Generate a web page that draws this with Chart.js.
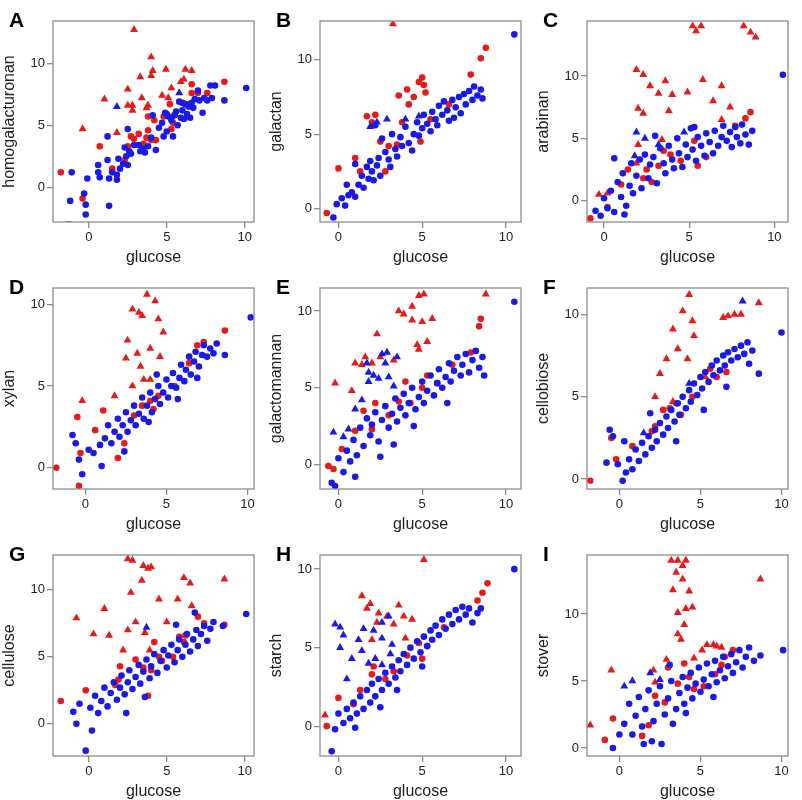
<!DOCTYPE html>
<html><head><meta charset="utf-8">
<script src="https://cdn.jsdelivr.net/npm/chart.js@4"></script>
<style>
body{margin:0;background:#fff;width:802px;height:800px;overflow:hidden}
#g{display:grid;grid-template-columns:267px 267px 268px;grid-template-rows:267px 267px 266px}
.c{position:relative;width:267px;height:267px}
canvas{display:block}
</style></head><body><div id="g"></div>
<script>
const panelLetters=["A","B","C","D","E","F","G","H","I"];
const yTitles=["homogalacturonan","galactan","arabinan","xylan","galactomannan","cellobiose","cellulose","starch","stover"];
const xTitle="glucose";
const tickValues=[0,5,10];
const xRanges=[[-2.3,10.6],[-1.1,10.9],[-1.0,10.8],[-2.0,10.4],[-1.1,10.9],[-2.0,10.4],[-2.3,10.6],[-1.1,10.9],[-2.0,10.4]];
const yRanges=[[-2.8,13.4],[-0.9,12.6],[-1.7,14.4],[-1.3,11.0],[-1.6,11.5],[-0.6,11.6],[-2.4,12.6],[-1.9,10.9],[-0.6,14.4]];

const A_blue=[[-1.2,-1.1],[-1.1,1.2],[-0.3,-0.5],[-0.2,-1.4],[-0.2,-2.2],[-0.1,0.7],[0.6,1.2],[0.6,1.8],[0.7,0.8],[1.2,4.1],[1.3,-1.5],[1.3,0.7],[1.2,2.2],[1.5,1.2],[1.8,0.6],[1.8,1.0],[1.9,2.3],[2.0,1.5],[2.2,1.9],[2.3,3.2],[2.4,2.5],[2.5,1.8],[2.5,4.7],[2.6,2.9],[2.7,2.7],[2.9,3.4],[3.2,3.4],[3.3,2.9],[3.5,3.1],[3.6,2.8],[3.8,3.3],[4.0,4.0],[4.1,5.8],[4.3,3.0],[4.5,4.8],[4.7,5.2],[4.8,4.1],[4.9,6.0],[5.0,4.5],[5.1,5.7],[5.3,5.4],[5.4,4.1],[5.5,5.8],[5.6,6.1],[5.7,5.0],[5.8,6.9],[5.9,5.6],[6.0,6.2],[6.1,5.5],[6.2,6.7],[6.3,5.9],[6.4,6.5],[6.5,5.6],[6.6,6.8],[6.7,6.4],[6.8,7.1],[7.0,7.8],[7.1,7.0],[7.3,6.0],[7.4,7.2],[7.6,7.0],[7.8,8.2],[7.9,7.2],[8.1,8.2],[8.7,7.0],[10.1,8.0],[-1.4,-3],[-1.2,-3],[5.0,5.9],[6.0,6.8]];
const A_blueTri=[[1.8,6.5],[5.8,7.6]];
const A_red=[[-1.8,1.2],[0.7,3.3],[-0.4,-0.9],[1.5,1.5],[2.3,2.2],[2.5,3.3],[2.7,4.1],[2.9,3.9],[3.2,4.3],[3.5,3.5],[3.7,4.0],[3.8,4.6],[3.8,5.7],[4.2,5.4],[4.3,3.8],[4.8,5.7],[5.2,6.7],[5.3,4.7],[5.5,5.8],[6.5,6.7],[6.6,8.3],[6.6,7.6],[7.0,7.6],[7.6,7.6],[8.7,8.5],[5.4,5.2],[4.0,3.8]];
const A_redTri=[[2.9,12.7],[4.0,10.5],[4.1,9.4],[4.0,9.0],[3.3,8.9],[4.95,9.5],[6.2,9.5],[6.6,9.4],[5.9,8.5],[6.1,8.7],[2.5,7.9],[1.0,7.1],[3.4,7.2],[5.3,8.0],[4.7,7.4],[5.1,7.2],[2.5,6.6],[2.8,6.6],[2.8,6.2],[3.8,6.6],[3.7,6.4],[-0.4,4.7],[1.8,4.4]];

const B_blue=[[-0.3,-0.6],[-0.1,0.3],[0.2,0.7],[0.4,0.2],[0.6,0.9],[0.8,1.1],[1.0,0.8],[1.2,1.6],[1.4,2.2],[1.5,1.4],[1.7,2.8],[1.8,2.0],[1.9,3.2],[2.0,2.5],[2.1,1.9],[2.3,2.9],[2.4,3.4],[2.5,2.2],[2.6,4.7],[2.8,3.8],[3.0,3.3],[3.2,5.0],[3.4,4.0],[3.5,3.5],[3.7,4.8],[3.8,4.2],[4.0,5.5],[4.2,4.4],[4.4,3.9],[4.5,5.0],[4.7,5.8],[4.8,4.9],[5.0,5.4],[5.1,6.3],[5.3,5.7],[5.5,5.2],[5.6,6.5],[5.8,6.0],[5.9,5.6],[6.0,6.9],[6.2,6.3],[6.3,7.2],[6.5,6.6],[6.6,5.9],[6.8,7.3],[7.0,6.8],[7.2,7.5],[7.3,6.4],[7.5,7.7],[7.6,7.0],[7.8,7.9],[8.0,7.3],[8.1,8.2],[8.3,7.6],[8.5,8.0],[8.6,7.4],[10.5,11.7],[1.0,3.0],[2.2,5.6],[0.5,1.6],[3.1,2.8],[6.9,6.1]];
const B_blueTri=[[1.9,5.5],[2.3,5.8],[2.9,6.0],[4.0,6.0],[4.8,6.2]];
const B_red=[[-0.7,-0.3],[0.0,2.7],[1.7,6.2],[2.0,5.8],[2.2,6.3],[2.5,4.5],[3.0,4.2],[3.5,4.3],[4.5,7.5],[4.8,8.5],[5.0,8.8],[5.1,8.3],[5.2,7.8],[4.1,8.0],[3.6,7.6],[4.2,7.0],[1.3,2.5],[1.0,3.4],[2.8,2.5],[4.9,4.5],[3.8,5.8],[8.5,10.1],[8.8,10.8],[7.9,9.0],[6.6,7.0],[5.5,6.0]];
const B_redTri=[[3.25,12.4]];

const C_blue=[[-0.5,-0.8],[-0.2,-1.2],[0.0,0.2],[0.2,-0.6],[0.4,0.8],[0.6,-0.9],[0.8,1.5],[1.0,0.3],[1.1,2.2],[1.3,-0.4],[1.5,1.2],[1.6,3.0],[1.7,0.6],[1.9,2.0],[2.1,3.3],[2.2,1.0],[2.4,3.7],[2.6,1.8],[2.7,2.9],[2.9,3.5],[3.1,1.4],[3.3,4.2],[3.5,3.0],[3.6,2.2],[3.8,4.4],[4.0,3.3],[4.1,2.6],[4.3,5.0],[4.4,3.8],[4.6,2.7],[4.8,4.5],[4.9,3.5],[5.1,5.8],[5.2,4.1],[5.4,3.2],[5.5,5.1],[5.7,4.4],[5.9,3.6],[6.0,5.4],[6.2,4.7],[6.4,3.8],[6.5,5.6],[6.7,4.4],[6.9,5.1],[7.0,6.0],[7.2,4.8],[7.4,5.5],[7.5,4.3],[7.7,5.9],[7.8,5.1],[8.0,4.6],[8.1,6.1],[8.3,5.3],[8.5,4.5],[8.7,5.6],[10.5,10.1],[0.6,3.4],[1.2,-1.1],[3.0,5.2],[5.3,5.9]];
const C_blueTri=[[1.9,5.5],[2.4,5.0],[4.7,5.5],[3.2,4.5],[1.8,3.6]];
const C_red=[[-0.8,-1.4],[0.2,-0.5],[1.0,1.3],[1.4,2.5],[2.3,1.8],[2.8,1.5],[3.2,2.8],[3.9,3.7],[4.5,3.2],[5.3,4.8],[5.5,2.8],[7.7,6.0],[8.3,6.6],[8.6,7.1],[6.0,3.5],[2.5,2.5],[3.5,4.0]];
const C_redTri=[[5.2,14],[5.7,14],[5.4,13.6],[8.2,14],[8.6,13.5],[8.9,13.1],[1.9,10.5],[2.3,10.1],[3.6,9.6],[5.8,9.7],[2.7,9.2],[3.2,8.6],[4.0,8.5],[4.9,8.7],[6.9,9.2],[6.4,8.0],[2.0,7.4],[2.3,7.0],[3.8,7.2],[7.4,7.5],[6.9,6.5],[2.0,4.5],[3.4,4.9],[-0.3,0.5],[0.2,0.6],[1.9,3.0]];

const D_blue=[[-0.8,2.0],[-0.6,1.5],[-0.4,0.5],[-0.2,-0.4],[0.5,0.9],[0.9,1.4],[1.2,1.8],[1.4,2.6],[1.6,1.5],[1.8,2.2],[2.0,3.0],[2.1,1.9],[2.3,2.6],[2.5,3.4],[2.6,2.2],[2.8,2.9],[3.0,3.8],[3.1,2.6],[3.3,3.3],[3.5,4.3],[3.6,3.0],[3.8,3.8],[4.0,4.6],[4.1,3.4],[4.3,4.2],[4.5,5.0],[4.6,3.9],[4.8,4.6],[5.0,5.4],[5.1,4.3],[5.3,5.0],[5.4,5.8],[5.6,4.9],[5.8,5.5],[5.9,6.3],[6.1,5.3],[6.2,6.0],[6.4,6.8],[6.5,5.7],[6.7,6.5],[6.8,7.1],[7.0,6.2],[7.2,6.9],[7.3,7.5],[7.5,6.8],[7.7,7.3],[7.9,7.0],[8.1,7.6],[8.6,6.9],[10.2,9.2],[1.0,0.1],[2.4,1.0],[3.9,2.8],[5.7,4.2],[6.9,5.5],[4.4,5.7],[0.2,1.1]];
const D_blueTri=[];
const D_red=[[-1.8,0],[-0.4,-1.1],[-0.3,0.9],[-0.5,3.1],[1.1,3.5],[0.6,2.3],[2.4,1.5],[3.0,3.2],[3.5,3.8],[4.0,4.1],[4.5,4.4],[5.5,5.0],[6.4,6.4],[7.3,7.7],[8.6,8.4],[6.9,7.5],[4.2,3.6],[2.0,0.6]];
const D_redTri=[[3.8,10.6],[4.3,10.2],[3.3,9.5],[2.9,9.7],[3.5,9.3],[4.5,9.1],[4.8,8.3],[2.6,7.8],[4.0,7.3],[3.2,7.0],[4.6,6.8],[2.5,6.7],[3.4,6.2],[4.0,5.4],[3.6,5.4],[-0.2,4.1],[2.9,5.0],[1.8,4.4]];

const E_blue=[[-0.4,-1.2],[-0.2,-1.4],[0.0,0.4],[0.3,-0.5],[0.5,0.9],[0.7,0.2],[0.9,1.6],[1.1,0.6],[1.3,2.4],[1.5,1.2],[1.7,3.0],[1.9,1.9],[2.0,2.6],[2.2,3.4],[2.4,1.5],[2.6,2.9],[2.8,3.8],[3.0,2.4],[3.2,3.3],[3.4,4.3],[3.5,2.8],[3.7,3.7],[3.9,4.6],[4.0,3.2],[4.2,4.0],[4.4,5.0],[4.6,3.6],[4.8,4.4],[5.0,5.4],[5.1,4.0],[5.3,4.8],[5.5,5.8],[5.7,4.5],[5.9,5.3],[6.0,6.2],[6.2,5.0],[6.4,5.7],[6.6,6.6],[6.7,5.4],[6.9,6.1],[7.1,7.0],[7.3,5.8],[7.4,6.5],[7.6,7.2],[7.8,6.0],[8.0,6.8],[8.2,7.4],[8.4,6.3],[8.6,7.0],[8.7,5.8],[10.5,10.6],[1.0,-0.8],[2.5,0.5],[4.5,2.5],[6.5,4.0],[3.3,1.3]];
const E_blueTri=[[2.6,7.2],[2.9,7.3],[3.5,7.0],[2.8,6.6],[1.8,6.0],[2.1,5.8],[2.4,5.6],[3.0,5.7],[1.8,5.4],[3.3,5.1],[1.4,4.2],[1.0,3.6],[0.3,1.8],[0.6,2.3],[1.7,6.6],[-0.3,2.1]];
const E_red=[[-0.6,-0.1],[-0.3,-0.3],[0.2,1.0],[1.0,2.2],[1.5,3.5],[2.0,2.3],[2.2,4.0],[3.0,3.2],[3.6,4.1],[4.3,4.0],[5.0,5.0],[5.3,5.8],[5.9,5.3],[6.8,6.5],[8.4,9.0],[8.5,9.5],[7.9,7.3],[4.0,5.4]];
const E_redTri=[[4.8,11],[5.1,11.1],[4.4,10.3],[3.6,10],[3.9,9.8],[4.4,9.4],[5.0,9.3],[5.6,9.5],[8.8,11.1],[2.3,8.5],[1.6,7.0],[2.5,7.0],[2.0,6.6],[3.3,6.8],[1.4,6.5],[1.0,6.6],[4.8,7.5],[5.3,8.0],[-0.2,5.3],[0.8,4.8],[4.7,7.8]];

const F_blue=[[-0.8,1.0],[-0.6,3.0],[-0.4,2.6],[-0.1,0.9],[0.2,-0.1],[0.4,0.4],[0.6,1.2],[0.8,0.6],[1.0,1.8],[1.2,1.1],[1.4,2.2],[1.6,1.5],[1.8,2.6],[2.0,1.9],[2.2,3.0],[2.3,2.3],[2.5,3.4],[2.7,2.7],[2.9,3.8],[3.0,3.1],[3.2,4.2],[3.4,3.5],[3.6,4.6],[3.7,3.9],[3.9,5.0],[4.1,4.3],[4.3,5.4],[4.4,4.7],[4.6,5.8],[4.8,5.1],[5.0,6.2],[5.1,5.5],[5.3,6.5],[5.5,5.9],[5.7,6.9],[5.8,6.3],[6.0,7.2],[6.2,6.6],[6.4,7.5],[6.5,6.9],[6.7,7.7],[6.9,7.2],[7.1,7.9],[7.3,7.4],[7.5,8.1],[7.7,7.6],[7.9,8.3],[8.2,7.8],[8.6,6.4],[10.0,8.9],[0.3,2.3],[1.9,4.0],[3.5,2.3],[5.2,4.2],[6.6,5.6],[8.0,7.0]];
const F_blueTri=[[7.6,10.8],[1.5,2.8],[4.3,5.8]];
const F_red=[[-1.8,-0.1],[-0.5,2.5],[-0.2,1.2],[0.8,2.0],[2.0,2.9],[2.7,4.2],[3.1,4.3],[3.5,4.6],[4.5,5.0],[5.6,6.7],[6.0,6.2],[6.6,6.5],[2.2,3.2],[3.8,3.9]];
const F_redTri=[[4.3,11.2],[3.9,10.2],[4.5,9.6],[3.3,9.1],[4.6,8.7],[3.6,7.9],[6.4,9.8],[6.7,9.9],[7.1,10.0],[7.5,10.0],[8.6,10.7],[4.2,7.3],[2.9,7.3],[2.5,6.4],[2.2,5.0],[3.3,4.7],[5.3,6.2]];

const G_blue=[[-1.0,0.9],[-0.8,0],[-0.6,1.5],[-0.2,-2.0],[0.1,1.2],[0.4,2.1],[0.6,0.8],[0.8,1.7],[1.0,2.7],[1.2,1.3],[1.4,2.3],[1.6,3.1],[1.8,1.8],[2.0,2.7],[2.1,3.6],[2.3,2.2],[2.5,3.1],[2.6,4.0],[2.8,2.6],[3.0,3.5],[3.2,4.4],[3.3,3.0],[3.5,3.9],[3.7,4.8],[3.9,3.4],[4.0,4.3],[4.2,5.2],[4.4,3.8],[4.6,4.7],[4.8,5.5],[5.0,4.2],[5.1,5.1],[5.3,5.9],[5.5,4.6],[5.7,5.5],[5.8,6.3],[6.0,5.0],[6.2,5.9],[6.3,6.7],[6.5,5.4],[6.7,6.3],[6.9,7.0],[7.0,5.8],[7.2,6.7],[7.4,7.3],[7.6,6.2],[7.8,7.1],[8.0,7.6],[8.6,7.3],[10.1,8.2],[0.2,-0.5],[2.4,0.8],[5.6,7.4],[6.8,8.3],[3.6,2.0]];
const G_blueTri=[[3.7,7.2]];
const G_red=[[-1.8,1.7],[-0.2,2.5],[1.7,2.9],[2.0,4.3],[3.5,4.2],[4.0,4.0],[4.2,6.1],[4.5,5.0],[4.7,4.7],[5.4,5.0],[5.8,6.5],[6.1,6.1],[6.2,6.6],[7.4,7.5],[7.0,8.0],[8.7,7.4],[3.0,4.8],[1.9,3.3],[3.8,2.1]];
const G_redTri=[[2.5,12.3],[2.8,12.2],[3.5,11.8],[3.8,11.6],[4.0,11.7],[3.4,10.7],[6.1,10.9],[6.5,10.5],[8.7,10.8],[-0.8,7.9],[1.0,8.6],[2.7,9.8],[4.5,9.3],[5.7,9.3],[6.6,8.8],[3.0,7.6],[2.5,7.0],[1.3,6.6],[3.6,6.8],[5.0,7.6],[2.2,5.5],[3.9,5.5],[0.3,6.7]];

const H_blue=[[-0.4,-1.6],[-0.2,-0.2],[0.0,0.8],[0.3,0.2],[0.5,1.1],[0.7,0.5],[0.9,1.5],[1.1,0.8],[1.3,1.9],[1.5,1.1],[1.7,2.3],[1.9,1.5],[2.0,2.7],[2.2,1.9],[2.4,3.0],[2.6,2.3],[2.8,3.4],[3.0,2.7],[3.2,3.8],[3.4,3.1],[3.6,4.2],[3.7,3.5],[3.9,4.6],[4.1,3.9],[4.3,5.0],[4.5,4.3],[4.7,5.4],[4.9,4.7],[5.1,5.7],[5.3,5.1],[5.5,6.1],[5.6,5.5],[5.8,6.4],[6.0,5.8],[6.2,6.8],[6.4,6.2],[6.6,7.1],[6.8,6.5],[7.0,7.4],[7.2,6.8],[7.4,7.6],[7.6,7.1],[7.8,7.5],[8.0,6.6],[8.3,7.2],[8.5,7.5],[10.5,10.0],[1.0,-0.1],[2.5,1.2],[3.5,2.3],[5.0,3.8]];
const H_blueTri=[[-0.2,6.5],[0.1,6.3],[0.3,5.8],[0.1,5.0],[1.2,5.5],[1.5,6.2],[2.1,6.1],[2.6,5.6],[3.2,5.2],[3.1,4.6],[2.6,3.9],[0.8,4.3],[1.4,4.8],[1.8,4.0],[2.2,4.3],[2.6,6.6],[3.0,7.0],[0.5,3.0]];
const H_red=[[-0.7,0],[0.0,1.8],[0.9,1.4],[1.3,2.3],[2.0,3.3],[2.1,3.8],[2.8,3.0],[3.3,3.5],[4.1,4.5],[4.8,5.3],[5.0,4.3],[5.3,5.1],[8.3,8.0],[8.6,8.5],[8.9,9.1],[6.3,6.3]];
const H_redTri=[[5.1,10.6],[1.4,8.3],[1.9,7.8],[1.7,7.5],[2.4,7.2],[2.9,7.0],[3.6,7.7],[3.9,7.0],[4.4,6.8],[3.3,6.5],[2.0,5.5],[4.0,5.6],[-0.8,0.7],[2.3,6.6]];

const I_blue=[[-0.4,0],[0.0,1.0],[0.3,1.8],[0.6,3.3],[0.8,1.0],[1.0,2.4],[1.2,3.8],[1.4,1.6],[1.6,2.9],[1.8,4.3],[2.0,0.5],[2.1,2.0],[2.3,3.3],[2.5,4.6],[2.6,0.3],[2.8,2.5],[3.0,3.7],[3.2,5.0],[3.3,1.8],[3.5,2.9],[3.7,4.1],[3.9,5.3],[4.0,3.3],[4.2,4.5],[4.4,5.6],[4.5,3.7],[4.7,4.8],[4.9,6.0],[5.0,4.2],[5.2,5.1],[5.4,6.3],[5.5,4.6],[5.7,5.5],[5.9,6.5],[6.0,4.9],[6.2,5.8],[6.4,6.8],[6.5,5.2],[6.7,6.1],[6.9,7.0],[7.0,5.6],[7.2,6.4],[7.4,7.3],[7.6,6.0],[7.8,6.8],[8.0,7.5],[8.3,6.5],[8.7,6.9],[10.1,7.3],[1.5,0.3],[4.1,2.6],[5.8,3.8],[3.1,6.2]];
const I_blueTri=[[1.9,5.6],[2.5,5.1],[0.3,4.6],[0.8,5.0]];
const I_red=[[-0.9,0.6],[-0.4,2.2],[1.8,1.7],[2.2,3.9],[3.0,6.0],[2.8,3.4],[3.6,4.8],[4.0,6.3],[4.3,5.3],[4.6,4.4],[5.2,4.6],[5.9,5.5],[6.3,6.2],[6.5,6.8],[7.0,7.3],[1.4,0.9]];
const I_redTri=[[3.2,14],[3.6,14],[4.1,14],[3.9,13.6],[3.5,13.1],[3.9,12.6],[3.3,11.8],[4.3,11.7],[3.6,10.1],[4.1,10.4],[4.5,10.5],[8.7,12.6],[4.0,9.2],[3.6,8.5],[3.8,8.1],[2.9,6.6],[2.1,5.8],[5.4,7.7],[5.8,7.7],[6.0,7.6],[6.3,7.5],[5.1,7.3],[4.6,6.7],[-1.8,1.7],[2.2,4.9],[-0.5,5.8]];

const panels=[
 [A_blue,A_blueTri,A_red,A_redTri],[B_blue,B_blueTri,B_red,B_redTri],[C_blue,C_blueTri,C_red,C_redTri],
 [D_blue,D_blueTri,D_red,D_redTri],[E_blue,E_blueTri,E_red,E_redTri],[F_blue,F_blueTri,F_red,F_redTri],
 [G_blue,G_blueTri,G_red,G_redTri],[H_blue,H_blueTri,H_red,H_redTri],[I_blue,I_blueTri,I_red,I_redTri]];

const BLUE='#1a1ae6',RED='#e61a1a';
const toXY=a=>a.map(p=>({x:p[0],y:p[1]}));
const frame={id:'frame',afterDraw(c,args,o){const a=c.chartArea,x=c.ctx;x.save();x.strokeStyle='#8c8c8c';x.lineWidth=1.3;x.strokeRect(a.left,a.top,a.right-a.left,a.bottom-a.top);
 x.fillStyle='#000';x.font='bold 21px "Liberation Sans", Arial, sans-serif';x.textBaseline='alphabetic';x.fillText(o.letter,9,27);x.restore();}};
Chart.register(frame);

panels.forEach((p,i)=>{
 const d=document.createElement('div');d.className='c';const cv=document.createElement('canvas');
 cv.width=267;cv.height=267;cv.style.width='267px';cv.style.height='267px';
 d.appendChild(cv);document.getElementById('g').appendChild(d);
 const ds=[[p[0],BLUE,'circle',3.3],[p[1],BLUE,'triangle',4.6],[p[2],RED,'circle',3.3],[p[3],RED,'triangle',4.6]].map(s=>({data:toXY(s[0]),backgroundColor:s[1],borderColor:s[1],borderWidth:0,pointStyle:s[2],pointRadius:s[3]}));
 const ax=(r,t,isX)=>({type:'linear',min:r[0],max:r[1],
   afterBuildTicks:s=>{s.ticks=tickValues.map(v=>({value:v}));},
   afterFit:s=>{if(isX)s.height=45;else s.width=53;},
   border:{display:false},
   grid:{drawOnChartArea:false,drawTicks:true,tickLength:6,color:'#8c8c8c',lineWidth:1.3},
   ticks:{color:'#222',font:{size:13,family:'"Liberation Sans", Arial, sans-serif'},padding:2,maxRotation:0},
   title:{display:true,text:t,color:'#222',font:{size:16,family:'"Liberation Sans", Arial, sans-serif'},padding:isX?{top:0,bottom:0}:{top:0,bottom:2}}});
 new Chart(cv,{type:'scatter',data:{datasets:ds},options:{responsive:false,animation:false,events:[],devicePixelRatio:1,
   layout:{padding:{top:21,right:13,left:0,bottom:0}},
   plugins:{legend:{display:false},tooltip:{enabled:false},frame:{letter:panelLetters[i]}},
   scales:{x:ax(xRanges[i],xTitle,true),y:ax(yRanges[i],yTitles[i],false)}}});
});
</script></body></html>
